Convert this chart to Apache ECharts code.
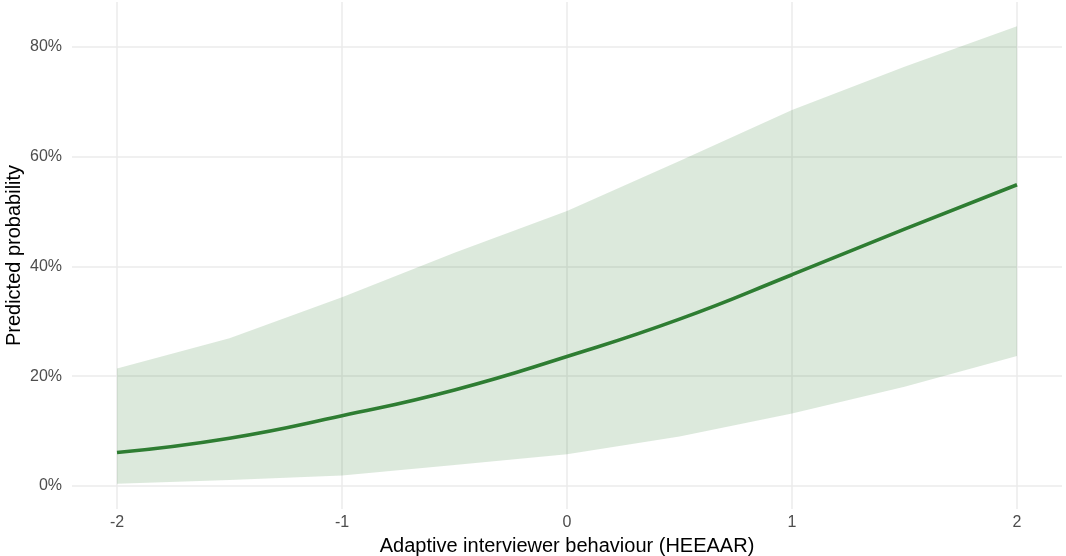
<!DOCTYPE html>
<html>
<head>
<meta charset="utf-8">
<script src="https://cdn.jsdelivr.net/npm/echarts@6/dist/echarts.min.js"></script>
<style>
  html, body { margin: 0; padding: 0; background: #fff; }
  #chart { width: 1066px; height: 556px; }
</style>
</head>
<body>
<div id="chart"></div>
<script>
// Predicted probability across adaptive interviewer behaviour, with confidence band
const xValues = [-2, -1.5, -1, -0.5, 0, 0.5, 1, 1.5, 2];
const predicted = [6.1, 8.7, 12.8, 17.5, 23.6, 30.4, 38.5, 46.8, 54.9];
const upperBound = [21.4, 26.9, 34.4, 42.5, 50.1, 59.2, 68.5, 76.4, 83.8];
const lowerBound = [0.4, 1.1, 1.9, 3.8, 5.8, 9.0, 13.2, 18.1, 23.7];
const xTicks = [-2, -1, 0, 1, 2];
const yTicks = [0, 20, 40, 60, 80];

const lineColor = '#2e7d32';
const bandColor = 'rgba(46,125,50,0.17)';
const gridColor = '#ebebeb';
const font = 'Liberation Sans, Arial, Helvetica, sans-serif';

const bandData = xValues.map((x, i) => [x, lowerBound[i], upperBound[i]]);
const lineData = xValues.map((x, i) => [x, predicted[i]]);

// Closed ribbon: upper edge left to right, then lower edge right to left
function renderBand(params, api) {
  if (params.dataIndex !== 0) return null;
  const pts = [];
  for (let i = 0; i < bandData.length; i++) {
    pts.push(api.coord([bandData[i][0], bandData[i][2]]));
  }
  for (let i = bandData.length - 1; i >= 0; i--) {
    pts.push(api.coord([bandData[i][0], bandData[i][1]]));
  }
  return {
    type: 'polygon',
    shape: { points: pts },
    style: { fill: bandColor, stroke: null },
    silent: true
  };
}

const chart = echarts.init(document.getElementById('chart'), null, { renderer: 'canvas' });
chart.setOption({
  animation: false,
  backgroundColor: '#ffffff',
  grid: { left: 72, right: 4, top: 2, bottom: 47, containLabel: false, outerBoundsMode: 'none' },
  xAxis: {
    type: 'value',
    min: -2.2,
    max: 2.2,
    name: 'Adaptive interviewer behaviour (HEEAAR)',
    nameLocation: 'middle',
    nameGap: 27,
    nameMoveOverlap: false,
    nameTextStyle: { color: '#000', fontSize: 20, fontFamily: font },
    axisLine: { show: false },
    axisTick: { show: false, customValues: xTicks },
    axisLabel: {
      customValues: xTicks,
      color: '#4d4d4d', fontSize: 16, fontFamily: font, margin: 6,
      formatter: v => String(v)
    },
    splitLine: { show: true, lineStyle: { color: gridColor, width: 1.5 } }
  },
  yAxis: {
    type: 'value',
    min: -4.2,
    max: 88.2,
    name: 'Predicted probability',
    nameLocation: 'middle',
    nameGap: 48,
    nameMoveOverlap: false,
    nameTextStyle: { color: '#000', fontSize: 20, fontFamily: font },
    axisLine: { show: false },
    axisTick: { show: false, customValues: yTicks },
    axisLabel: {
      customValues: yTicks,
      color: '#4d4d4d', fontSize: 16, fontFamily: font, margin: 10,
      formatter: v => v + '%'
    },
    splitLine: { show: true, lineStyle: { color: gridColor, width: 1.5 } }
  },
  series: [
    {
      name: 'band',
      type: 'custom',
      renderItem: renderBand,
      data: bandData,
      encode: { x: 0, y: [1, 2] },
      z: 3,
      silent: true
    },
    {
      name: 'Predicted probability',
      type: 'line',
      data: lineData,
      symbol: 'none',
      smooth: true,
      lineStyle: { color: lineColor, width: 3.6 },
      z: 5
    }
  ]
});
</script>
</body>
</html>
